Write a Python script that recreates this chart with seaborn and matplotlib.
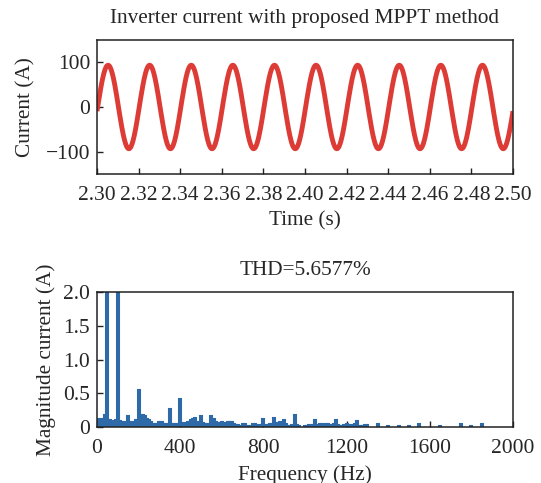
import numpy as np
import pandas as pd
import matplotlib
matplotlib.use("Agg")
import matplotlib.pyplot as plt
import seaborn as sns

# ---- inverter output current (time domain) ----
fund_freq_hz = 50.0          # grid frequency
fund_amp_a = 93.5            # peak current
fund_phase_rad = -0.10       # phase at t = 2.30 s
t_start, t_end = 2.30, 2.50
time_ticks = [2.30, 2.32, 2.34, 2.36, 2.38, 2.40, 2.42, 2.44, 2.46, 2.48, 2.50]
current_ticks = [-100, 0, 100]

# ---- FFT magnitude spectrum (10 Hz bins); bins not listed are ~0 ----
bin_freq = [0, 10, 20, 30, 40, 50, 60, 70, 80, 90, 100, 110, 120, 130, 140,
            150, 160, 170, 180, 190, 200, 210, 220, 230, 240, 250, 260, 270,
            280, 290, 300, 310, 320, 330, 340, 350, 360, 370, 380, 390, 400,
            410, 420, 430, 440, 450, 460, 470, 480, 490, 500, 510, 520, 530,
            540, 550, 560, 570, 580, 590, 600, 610, 620, 630, 640, 650, 660,
            670, 680, 690, 700, 710, 720, 730, 740, 750, 760, 770, 780, 790,
            800, 810, 820, 830, 840, 850, 860, 870, 880, 890, 900, 910, 920,
            930, 940, 950, 960, 970, 1000, 1010, 1020, 1030, 1040, 1050, 1060,
            1070, 1080, 1090, 1100, 1110, 1120, 1130, 1140, 1150, 1160, 1170,
            1180, 1190, 1200, 1210, 1220, 1230, 1240, 1250, 1260, 1270, 1280,
            1290, 1300, 1350, 1400, 1450, 1500, 1550, 1650, 1750, 1800, 1850]
bin_mag = [0.10, 0.12, 0.10, 0.12, 0.18, 93.5, 0.10, 0.08, 0.09, 0.10, 2.60,
           0.09, 0.08, 0.07, 0.06, 0.17, 0.07, 0.06, 0.08, 0.10, 0.55, 0.10,
           0.18, 0.17, 0.12, 0.10, 0.08, 0.05, 0.05, 0.04, 0.08, 0.07, 0.05,
           0.04, 0.04, 0.27, 0.05, 0.04, 0.04, 0.05, 0.41, 0.06, 0.05, 0.06,
           0.08, 0.11, 0.12, 0.13, 0.08, 0.06, 0.16, 0.06, 0.05, 0.05, 0.05,
           0.16, 0.12, 0.07, 0.06, 0.06, 0.07, 0.06, 0.06, 0.07, 0.08, 0.08,
           0.04, 0.03, 0.03, 0.02, 0.05, 0.05, 0.02, 0.02, 0.02, 0.05, 0.04,
           0.02, 0.03, 0.03, 0.12, 0.03, 0.03, 0.04, 0.05, 0.13, 0.04, 0.06,
           0.08, 0.05, 0.10, 0.04, 0.02, 0.02, 0.03, 0.18, 0.03, 0.02, 0.02,
           0.02, 0.03, 0.02, 0.03, 0.11, 0.03, 0.04, 0.04, 0.03, 0.05, 0.04,
           0.03, 0.03, 0.04, 0.11, 0.03, 0.02, 0.02, 0.03, 0.05, 0.03, 0.03,
           0.02, 0.04, 0.09, 0.02, 0.02, 0.02, 0.03, 0.03, 0.05, 0.02, 0.02,
           0.01, 0.04, 0.01, 0.04, 0.02, 0.04]
freq_ticks = [0, 400, 800, 1200, 1600, 2000]
mag_ticks = [0, 0.5, 1.0, 1.5, 2.0]
mag_tick_labels = ["0", "0.5", "1.0", "1.5", "2.0"]
thd_percent = 5.6577

LINE_RED = "#dd3c36"
BAR_BLUE = "#2f6aa8"
FS_TICK = 15.5
FS_LABEL = 15.3

sns.set_theme(style="white")
plt.rcParams["font.family"] = ["Liberation Serif", "DejaVu Serif"]
plt.rcParams["axes.edgecolor"] = "#222222"
plt.rcParams["axes.linewidth"] = 1.1
plt.rcParams["axes.unicode_minus"] = True

fig = plt.figure(figsize=(5.41, 4.83), dpi=100)
ax1 = fig.add_axes([0.1793, 0.6398, 0.7689, 0.2774])
ax2 = fig.add_axes([0.1793, 0.1159, 0.7689, 0.2795])

# time-domain waveform
t = np.linspace(t_start, t_end, 4001)
i_t = fund_amp_a * np.sin(2 * np.pi * fund_freq_hz * (t - t_start) + fund_phase_rad)
wave = pd.DataFrame({"Time (s)": t, "Current (A)": i_t})
sns.lineplot(data=wave, x="Time (s)", y="Current (A)", ax=ax1,
             color=LINE_RED, linewidth=3.5, solid_capstyle="butt")
ax1.set_xlim(t_start, t_end)
ax1.set_ylim(-150, 150)
ax1.set_xticks(time_ticks)
ax1.set_xticklabels([f"{v:.2f}" for v in time_ticks])
ax1.set_yticks(current_ticks)
ax1.set_yticklabels(["\u2212100", "0", "100"])
ax1.set_title("Inverter current with proposed MPPT method", fontsize=FS_LABEL, pad=12)
ax1.set_xlabel("Time (s)", fontsize=FS_LABEL, labelpad=5)
ax1.set_ylabel("Current (A)", fontsize=FS_LABEL, labelpad=7)

# spectrum
spec = pd.DataFrame({"Frequency (Hz)": bin_freq, "Magnitude": bin_mag})
sns.barplot(data=spec, x="Frequency (Hz)", y="Magnitude", ax=ax2,
            native_scale=True, width=1.0, color=BAR_BLUE, saturation=1,
            edgecolor=BAR_BLUE, linewidth=1.5)
ax2.set_xlim(0, 2000)
ax2.set_ylim(0, 2.0)
ax2.set_xticks(freq_ticks)
ax2.set_xticklabels([str(v) for v in freq_ticks])
ax2.set_yticks(mag_ticks)
ax2.set_yticklabels(mag_tick_labels)
ax2.set_title(f"THD={thd_percent:.4f}%", fontsize=FS_LABEL, pad=12)
ax2.set_xlabel("Frequency (Hz)", fontsize=FS_LABEL, labelpad=5)
ax2.set_ylabel("Magnitude current (A)", fontsize=FS_LABEL, labelpad=5)

for ax in (ax1, ax2):
    for sp in ax.spines.values():
        sp.set_visible(True)
    ax.tick_params(axis="both", which="major", direction="in", length=4,
                   width=1.0, color="#222222", labelsize=FS_TICK,
                   bottom=True, left=True, top=False, right=False)
    ax.tick_params(axis="x", pad=8.5)
    ax.tick_params(axis="y", pad=5)
    ax.grid(False)

fig.savefig("out.png", dpi=100)
